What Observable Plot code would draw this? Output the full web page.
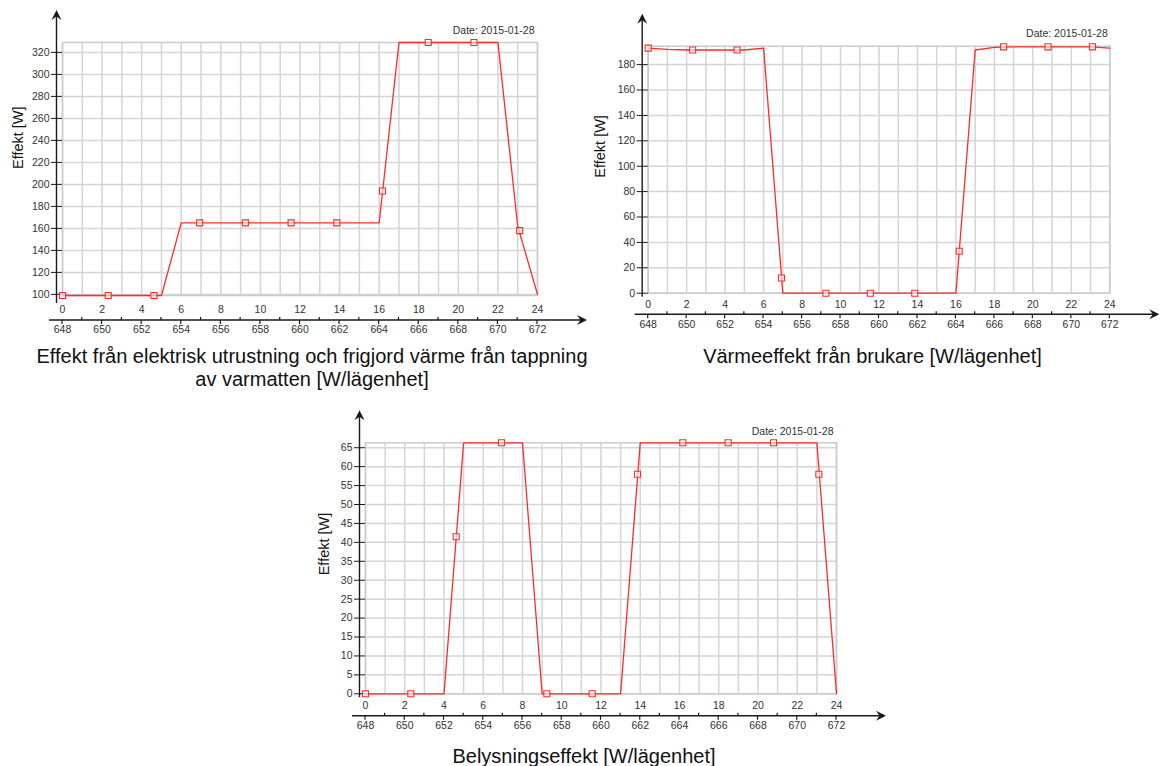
<!DOCTYPE html>
<html>
<head>
<meta charset="utf-8">
<script src="https://cdn.jsdelivr.net/npm/d3@7"></script>
<script src="https://cdn.jsdelivr.net/npm/@observablehq/plot@0.6"></script>
<style>
  html, body { margin: 0; padding: 0; background: #fff; }
  #page { position: relative; width: 1160px; height: 766px; overflow: hidden;
          font-family: "Liberation Sans", Arial, sans-serif; background: #fff; }
  .panel { position: absolute; }
  .panel svg { overflow: visible; }
  .title { position: absolute; transform: translateX(-50%); text-align: center;
           white-space: nowrap; color: #111; font-size: 20px; line-height: 23px; }
</style>
</head>
<body>
<div id="page"></div>
<script>
// Hour of the day (0–24) and the matching simulation hour (648–672)
const hours = [0, 1, 2, 3, 4, 5, 6, 7, 8, 9, 10, 11, 12, 13, 14, 15, 16, 17, 18, 19, 20, 21, 22, 23, 24];
const hourTickLabels = [0, 2, 4, 6, 8, 10, 12, 14, 16, 18, 20, 22, 24];
const simHourLabels = [648, 650, 652, 654, 656, 658, 660, 662, 664, 666, 668, 670, 672];
const markerHours = [0, 2.31, 4.62, 6.93, 9.24, 11.55, 13.86, 16.17, 18.48, 20.79, 23.1];
const dateLabel = "Date: 2015-01-28";
const yTitle = "Effekt [W]";

// Electrical equipment + heat released from hot-water use [W/apartment]
const equipmentValues = [99, 99, 99, 99, 99, 99, 165, 165, 165, 165, 165, 165, 165, 165, 165, 165, 165, 329, 329, 329, 329, 329, 329, 162, 100];
const equipmentMarkers = [99, 99, 99, 165, 165, 165, 165, 194, 329, 329, 158];
const equipmentTicks = [100, 120, 140, 160, 180, 200, 220, 240, 260, 280, 300, 320];

// Heat from occupants [W/apartment]
const occupantValues = [193, 192, 191.5, 191.5, 191.5, 191.5, 193, 0, 0, 0, 0, 0, 0, 0, 0, 0, 0, 191.5, 193.5, 194, 194, 194, 194, 194, 193];
const occupantMarkers = [193, 191.5, 191.5, 12, 0, 0, 0, 33, 194, 194, 194];
const occupantTicks = [0, 20, 40, 60, 80, 100, 120, 140, 160, 180];

// Lighting [W/apartment]
const lightingValues = [0, 0, 0, 0, 0, 66.3, 66.3, 66.3, 66.3, 0, 0, 0, 0, 0, 66.3, 66.3, 66.3, 66.3, 66.3, 66.3, 66.3, 66.3, 66.3, 66.3, 0];
const lightingMarkers = [0, 0, 41.5, 66.3, 0, 0, 58, 66.3, 66.3, 66.3, 58];
const lightingTicks = [0, 5, 10, 15, 20, 25, 30, 35, 40, 45, 50, 55, 60, 65];

const panels = [
  {
    left: 0, top: 0, width: 600, height: 345,
    margins: {left: 62, right: 63, top: 42, bottom: 50},
    values: equipmentValues, markers: equipmentMarkers, ticks: equipmentTicks,
    yDomain: [99, 329],
    axis: {topLabel: 17, line: 25, bottomLabel: 37, yExt: 8},
    yTitle: {dx: -44, dy: 0}, date: {dx: -3, dy: -16},
    titleLines: ["Effekt från elektrisk utrustning och frigjord värme från tappning", "av varmatten [W/lägenhet]"],
    titleX: 312, titleTop: 345
  },
  {
    left: 590, top: 0, width: 570, height: 345,
    margins: {left: 57.7, right: 50.7, top: 45.7, bottom: 52.3},
    values: occupantValues, markers: occupantMarkers, ticks: occupantTicks,
    yDomain: [0, 194.5],
    axis: {topLabel: 15, line: 21.5, bottomLabel: 34.5, yExt: 4},
    yTitle: {dx: -47.7, dy: 8}, date: {dx: -2, dy: -16.5},
    titleLines: ["Värmeeffekt från brukare [W/lägenhet]"],
    titleX: 872.5, titleTop: 345
  },
  {
    left: 300, top: 400, width: 600, height: 345,
    margins: {left: 65, right: 64, top: 42.3, bottom: 51.7},
    values: lightingValues, markers: lightingMarkers, ticks: lightingTicks,
    yDomain: [0, 66.3],
    axis: {topLabel: 15.5, line: 22.5, bottomLabel: 35, yExt: 4},
    yTitle: {dx: -41, dy: 7}, date: {dx: -3, dy: -15.6},
    titleLines: ["Belysningseffekt [W/lägenhet]"],
    titleX: 584, titleTop: 745
  }
];

const page = document.getElementById("page");
const gridColor = "#d5d5d5";
const lineColor = "#ff2a2a";
const axisColor = "#1a1a1a";

function arrowPath(tx, ty, dir) {
  // filled notched arrowhead with its tip at (tx, ty)
  const p = dir === "up"
    ? [[0, 0], [-5, 10], [0, 6.5], [5, 10]]
    : [[0, 0], [-10, -5], [-6.5, 0], [-10, 5]];
  return "M" + p.map(([a, b]) => `${tx + a},${ty + b}`).join("L") + "Z";
}

for (const cfg of panels) {
  const line = hours.map((h, i) => ({hour: h, value: cfg.values[i]}));
  const pts = markerHours.map((h, i) => ({hour: h, value: cfg.markers[i]}));
  const m = cfg.margins;

  const plot = Plot.plot({
    width: cfg.width,
    height: cfg.height,
    marginLeft: m.left, marginRight: m.right, marginTop: m.top, marginBottom: m.bottom,
    style: {fontFamily: "'Liberation Sans', Arial, sans-serif", fontSize: "10.5px", color: "#333", background: "transparent", overflow: "visible"},
    x: {domain: [0, 24], axis: null},
    y: {domain: cfg.yDomain, label: null},
    marks: [
      Plot.ruleX(hours, {x: d => d, stroke: gridColor, strokeWidth: 1.5}),
      Plot.ruleY(cfg.ticks, {y: d => d, stroke: gridColor, strokeWidth: 1.5}),
      Plot.frame({stroke: "#cbcbcb", strokeWidth: 1.5}),
      Plot.axisY(cfg.ticks, {anchor: "left", tickSize: 11, tickPadding: 2, label: null, stroke: axisColor, fill: "#333", fontSize: 10.5}),
      Plot.line(line, {x: "hour", y: "value", stroke: lineColor, strokeWidth: 1.3}),
      Plot.dot(pts, {x: "hour", y: "value", symbol: "square", r: 3.4, stroke: lineColor, strokeWidth: 1.1, fill: "#fff", fillOpacity: 0.6}),
      Plot.text(hourTickLabels, {x: d => d, text: d => String(d), frameAnchor: "bottom", dy: cfg.axis.topLabel, fill: "#333", fontSize: 10.5}),
      Plot.text(hourTickLabels, {x: d => d, text: (d, i) => String(simHourLabels[i]), frameAnchor: "bottom", dy: cfg.axis.bottomLabel, fill: "#333", fontSize: 10.5}),
      Plot.text([dateLabel], {text: d => d, frameAnchor: "top-right", textAnchor: "end", dx: cfg.date.dx, dy: cfg.date.dy, fill: "#333", fontSize: 10.5}),
      Plot.text([yTitle], {text: d => d, frameAnchor: "left", rotate: -90, dx: cfg.yTitle.dx, dy: cfg.yTitle.dy, fill: "#111", fontSize: 14.5})
    ]
  });

  // Detached axis lines, tick marks and arrowheads, positioned with the plot's scales
  const sx = plot.scale("x"), sy = plot.scale("y");
  const x = d3.scaleLinear(sx.domain, sx.range);
  const [yBottom, yTop] = sy.range;
  const x0 = x(0), x1 = x(24);
  const ax = x0 - 5.5;
  const ly = yBottom + cfg.axis.line;
  const g = d3.select(plot).append("g").attr("stroke", axisColor).attr("stroke-width", 1.4).attr("fill", "none");
  g.append("line").attr("x1", ax).attr("x2", ax).attr("y1", yTop - 28).attr("y2", yBottom + cfg.axis.yExt);
  g.append("path").attr("d", arrowPath(ax, yTop - 32, "up")).attr("fill", axisColor).attr("stroke", "none");
  g.append("line").attr("x1", x0 - 13).attr("x2", x1 + 46).attr("y1", ly).attr("y2", ly);
  g.append("path").attr("d", arrowPath(x1 + 50, ly, "right")).attr("fill", axisColor).attr("stroke", "none");
  g.selectAll("line.tick").data(hours).join("line")
    .attr("class", "tick")
    .attr("x1", d => x(d)).attr("x2", d => x(d))
    .attr("y1", d => d % 2 === 0 ? ly : ly - 3)
    .attr("y2", d => d % 2 === 0 ? ly + 4 : ly)
    .attr("stroke-width", 1.2);

  const holder = document.createElement("div");
  holder.className = "panel";
  holder.style.left = cfg.left + "px";
  holder.style.top = cfg.top + "px";
  holder.appendChild(plot);
  page.appendChild(holder);

  const title = document.createElement("div");
  title.className = "title";
  title.style.left = cfg.titleX + "px";
  title.style.top = cfg.titleTop + "px";
  title.innerHTML = cfg.titleLines.join("<br>");
  page.appendChild(title);
}
</script>
</body>
</html>
